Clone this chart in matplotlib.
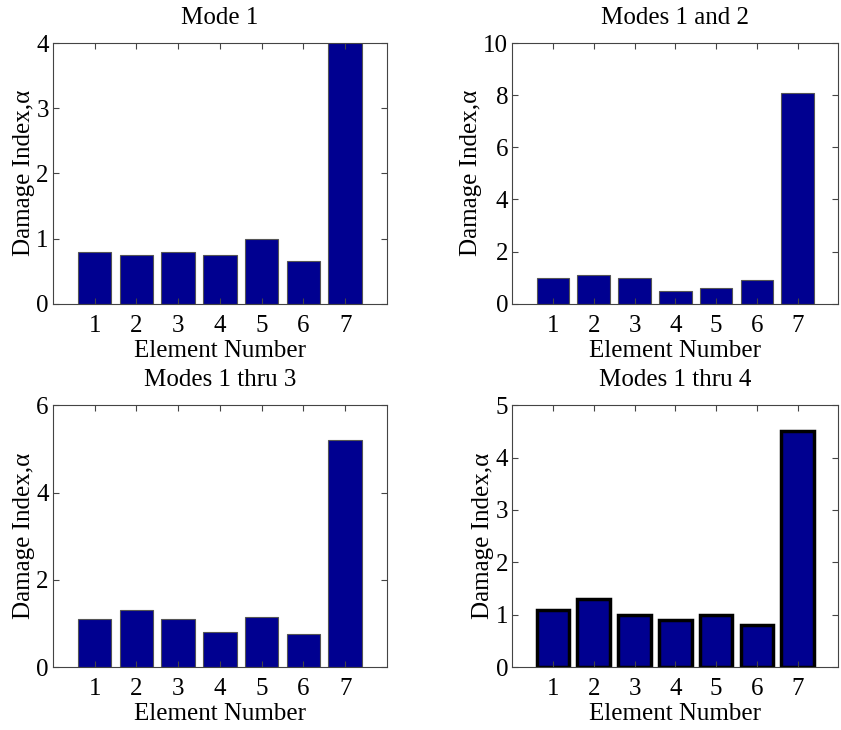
import numpy as np
import matplotlib
matplotlib.use("Agg")
import matplotlib.pyplot as plt

plt.rcParams["font.family"] = ["Liberation Serif", "DejaVu Serif"]
plt.rcParams["font.size"] = 18

elements = [1, 2, 3, 4, 5, 6, 7]

mode1 = [0.8, 0.75, 0.8, 0.75, 1.0, 0.65, 4.2]
modes12 = [1.0, 1.1, 1.0, 0.5, 0.6, 0.9, 8.1]
modes13 = [1.1, 1.3, 1.1, 0.8, 1.15, 0.75, 5.2]
modes14 = [1.1, 1.3, 1.0, 0.9, 1.0, 0.8, 4.5]

titles = ["Mode 1", "Modes 1 and 2", "Modes 1 thru 3", "Modes 1 thru 4"]
series = [mode1, modes12, modes13, modes14]
ylims = [4, 10, 6, 5]
yticks = [[0, 1, 2, 3, 4], [0, 2, 4, 6, 8, 10], [0, 2, 4, 6], [0, 1, 2, 3, 4, 5]]

# axes boxes in figure fractions (left, bottom, width, height)
boxes = [
    [0.063, 0.584, 0.397, 0.357],
    [0.609, 0.584, 0.388, 0.357],
    [0.063, 0.086, 0.397, 0.359],
    [0.609, 0.086, 0.388, 0.359],
]

fig = plt.figure(figsize=(8.41, 7.30), dpi=100)

for i in range(4):
    ax = fig.add_axes(boxes[i])
    if i == 3:
        ax.bar(elements, series[i], width=0.8, color="#000090",
               edgecolor="black", linewidth=2.5)
    else:
        ax.bar(elements, series[i], width=0.8, color="#000090",
               edgecolor="#555555", linewidth=0.8)
    ax.set_xlim(0, 8)
    ax.set_ylim(0, ylims[i])
    ax.set_xticks(elements)
    ax.set_yticks(yticks[i])
    ax.tick_params(direction="in", top=True, right=True, length=4,
                   color="#444444", labelsize=18)
    ax.tick_params(axis="x", pad=8)
    ax.tick_params(axis="y", pad=3)
    for s in ax.spines.values():
        s.set_color("#444444")
        s.set_linewidth(0.8)
    ax.set_title(titles[i], fontsize=18, pad=14)
    ax.set_xlabel("Element Number", fontsize=18, labelpad=2)
    ax.set_ylabel("Damage Index,α", fontsize=18, labelpad=1)

fig.savefig("out.png", dpi=100)
